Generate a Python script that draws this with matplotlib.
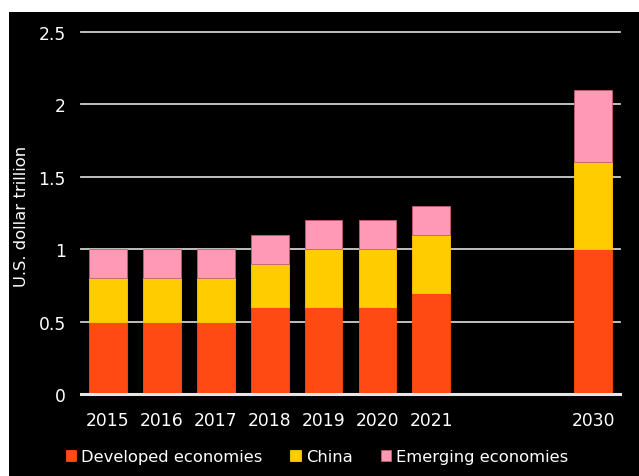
import matplotlib
matplotlib.use("Agg")
import matplotlib.pyplot as plt
from matplotlib.patches import Rectangle
import numpy as np

years = ["2015", "2016", "2017", "2018", "2019", "2020", "2021", "2030"]
positions = [0, 1, 2, 3, 4, 5, 6, 9]
developed = [0.5, 0.5, 0.5, 0.6, 0.6, 0.6, 0.7, 1.0]
china = [0.3, 0.3, 0.3, 0.3, 0.4, 0.4, 0.4, 0.6]
emerging = [0.2, 0.2, 0.2, 0.2, 0.2, 0.2, 0.2, 0.5]
series_names = ["Developed economies", "China", "Emerging economies"]
colors = ["#FF4A14", "#FFCC00", "#FF99B5"]
yticks = [0, 0.5, 1, 1.5, 2, 2.5]
ytick_labels = ["0", "0.5", "1", "1.5", "2", "2.5"]

W, H = 639, 477
fig = plt.figure(figsize=(W / 100, H / 100), dpi=100, facecolor="white")
fig.patches.append(Rectangle((9 / W, 0), 1 - 9 / W, 1 - 13 / H, transform=fig.transFigure,
                             facecolor="black", edgecolor="none", zorder=-10))

ax_left, ax_right = 81 / W, 620 / W
y0_px, y25_px = 395, 33
ymax = 2.5
ax = fig.add_axes([ax_left, 1 - y0_px / H, ax_right - ax_left, (y0_px - y25_px) / H])
ax.set_facecolor("none")

for y in yticks[1:]:
    ax.axhline(y, color="#CFCFCF", lw=1.3, zorder=1, clip_on=False)
ax.axhline(0, color="#E6E6E6", lw=2.2, zorder=3, clip_on=False)

bottom = np.zeros(len(years))
handles = []
for vals, c, name in zip([developed, china, emerging], colors, series_names):
    ec = "#C06070" if name == "Emerging economies" else c
    b = ax.bar(positions, vals, bottom=bottom, width=0.7, color=c, edgecolor=ec, lw=0.6,
               zorder=2, label=name)
    handles.append(b)
    bottom += np.array(vals)

ax.set_xlim(-0.5, 9.5)
ax.set_ylim(0, ymax)
ax.set_xticks(positions)
ax.set_xticklabels(years)
ax.set_yticks(yticks)
ax.set_yticklabels(ytick_labels)
ax.tick_params(axis="both", length=0, colors="white", labelsize=12.3)
ax.tick_params(axis="x", pad=12)
ax.tick_params(axis="y", pad=11)
for s in ax.spines.values():
    s.set_visible(False)

fig.text(22 / W, 1 - 216 / H, "U.S. dollar trillion", rotation=90, color="white",
         fontsize=11.8, ha="center", va="center")

leg = fig.legend(handles=handles, labels=series_names, loc="center", ncol=3,
                 bbox_to_anchor=(317 / W, 1 - 458 / H), frameon=False,
                 fontsize=11.8, handlelength=0.65, handleheight=0.65, handletextpad=0.3,
                 columnspacing=1.7, labelcolor="white")

fig.savefig("out.png", dpi=100, facecolor="white")
